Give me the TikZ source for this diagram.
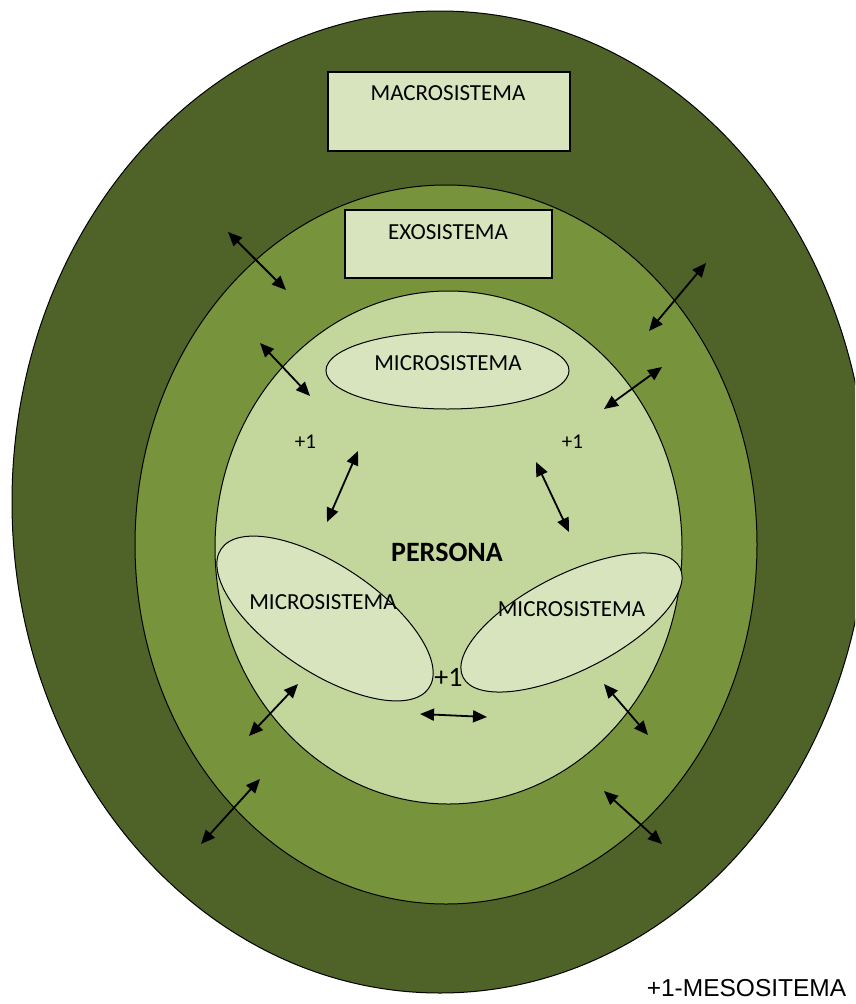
\documentclass[tikz,border=0pt]{standalone}
\usepackage{fontspec}
\setmainfont{Carlito}
\newfontfamily\arialfont{Liberation Sans}
\usetikzlibrary{arrows.meta,shapes.geometric}
\definecolor{outerg}{HTML}{4F6228}
\definecolor{midg}{HTML}{77933C}
\definecolor{innerg}{HTML}{C3D69B}
\definecolor{paleg}{HTML}{D7E4BD}
\begin{document}
\begin{tikzpicture}[x=1pt,y=-1pt,
  biarrow/.style={{Triangle[length=14pt,width=12pt]}-{Triangle[length=14pt,width=12pt]}, line width=1.8pt, black},
  ring/.style={ellipse, draw=black, line width=1pt, inner sep=0pt, outer sep=0pt},
  boxstyle/.style={draw=black, line width=1.5pt, fill=paleg, inner sep=0pt, anchor=north west},
  microell/.style={ellipse, draw=black, line width=1pt, fill=paleg, inner sep=0pt, outer sep=0pt},
  lbl/.style={font=\fontsize{23}{27}\selectfont, inner sep=0pt, text=black},
  plus/.style={font=\fontsize{21}{25}\selectfont, inner sep=0pt, text=black}]
\useasboundingbox (0,0) rectangle (855,1004);
\clip (0,0) rectangle (855,1004);
\fill[white] (0,0) rectangle (855,1004);
% rings
\node[ring, fill=outerg, minimum width=856, minimum height=982] (macroring) at (440,502) {};
\node[ring, fill=midg, minimum width=622, minimum height=719] (exoring) at (446,544.5) {};
\node[boxstyle, minimum width=242, minimum height=79] (macrobox) at (327,71) {};
\node[lbl] (macrotext) at (448,93) {MACROSISTEMA};
\node[boxstyle, minimum width=207, minimum height=68] (exobox) at (344,209) {};
\node[lbl] (exotext) at (448,232) {EXOSISTEMA};
\node[ring, fill=innerg, minimum width=467, minimum height=513] (persona) at (448.5,547.5) {};
% microsystems
\node[microell, minimum width=243, minimum height=77] (microtop) at (447.5,370.5) {};
\node[lbl] (microtoptext) at (448,363) {MICROSISTEMA};
\node[microell, minimum width=250, minimum height=107, rotate=-33.7] (microleft) at (325,618.5) {};
\node[lbl] (microlefttext) at (323,602) {MICROSISTEMA};
\node[microell, minimum width=243, minimum height=96, rotate=26.8] (microright) at (571.5,622.5) {};
\node[lbl] (microrighttext) at (571.5,609) {MICROSISTEMA};
\node[font=\bfseries\fontsize{28}{32}\selectfont, inner sep=0pt] (personatext) at (447,552) {PERSONA};
% +1 labels
\node[plus] (plusleft) at (305.5,442) {+1};
\node[plus] (plusright) at (572.5,442) {+1};
\node[font=\fontsize{28}{32}\selectfont, inner sep=0pt] (plusmid) at (448.5,677) {+1};
\node[font=\arialfont\fontsize{24.5}{28}\selectfont, inner sep=0pt] (meso) at (746.5,988) {+1-MESOSITEMA};
% arrow endpoints
\coordinate (a1s) at (228,232); \coordinate (a1e) at (286,290);
\coordinate (a2s) at (260,343); \coordinate (a2e) at (310,396);
\coordinate (a3s) at (706,263); \coordinate (a3e) at (649,331);
\coordinate (a4s) at (662,367); \coordinate (a4e) at (604,409);
\coordinate (a5s) at (358,451); \coordinate (a5e) at (327,522);
\coordinate (a6s) at (536,462); \coordinate (a6e) at (569,532);
\coordinate (a7s) at (298,684); \coordinate (a7e) at (249,736);
\coordinate (a8s) at (260,779); \coordinate (a8e) at (201,844);
\coordinate (a9s) at (604,684); \coordinate (a9e) at (648,735);
\coordinate (a10s) at (604,791); \coordinate (a10e) at (662,844);
\coordinate (a11s) at (420,714); \coordinate (a11e) at (487,717);
\foreach \i in {1,...,11} {\draw[biarrow] (a\i s) -- (a\i e);}
\end{tikzpicture}
\end{document}
